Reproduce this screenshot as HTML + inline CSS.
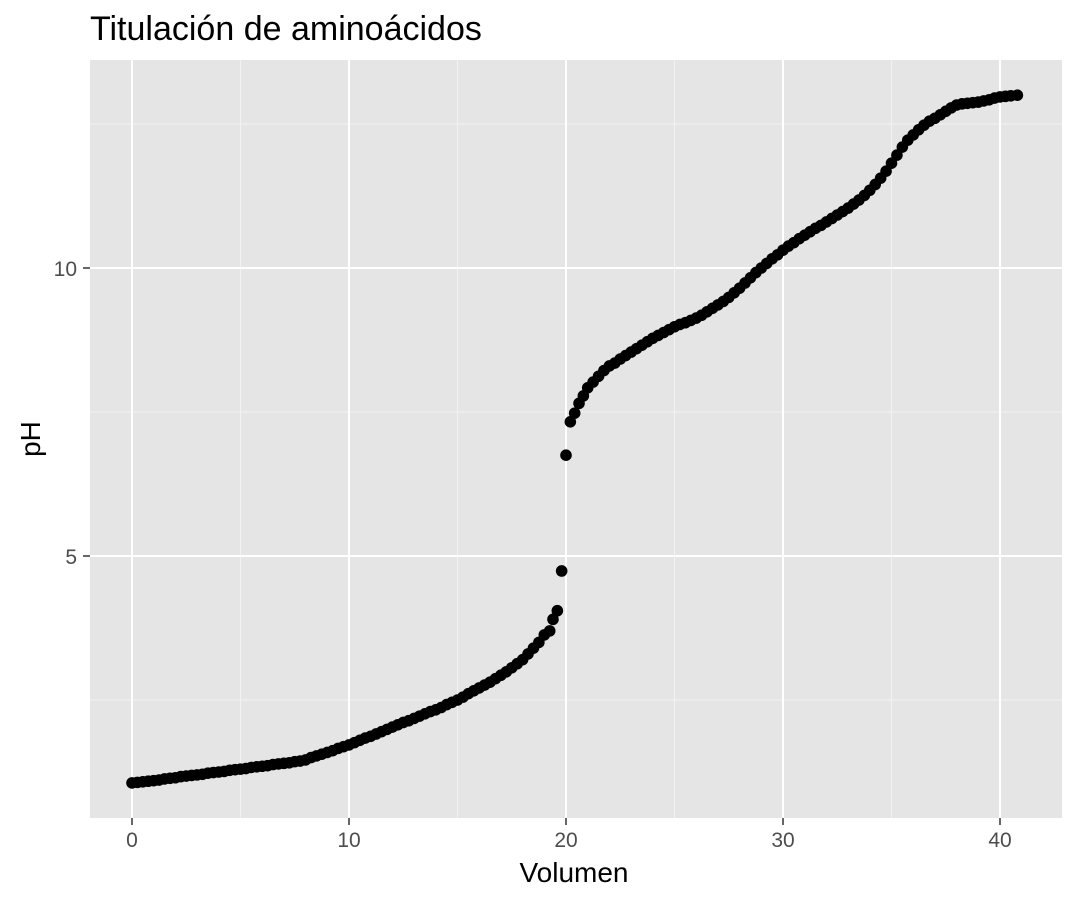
<!DOCTYPE html>
<html><head><meta charset="utf-8"><style>
body{margin:0;background:#fff;}
svg text{font-family:"Liberation Sans",Arial,sans-serif;}
</style></head><body>
<svg id="chart" width="1076" height="902" xmlns="http://www.w3.org/2000/svg">
<rect width="1076" height="902" fill="#fff"/>
<text x="90" y="40" font-size="34" fill="#000">Titulación de aminoácidos</text>
<rect x="90" y="60" width="972" height="758" fill="#e5e5e5"/>
<g id="grid"></g>
<g id="points"></g>
<g id="axes"></g>
<text x="574" y="882" font-size="28" text-anchor="middle" fill="#000">Volumen</text>
<text transform="translate(40,439) rotate(-90)" font-size="28" text-anchor="middle" fill="#000">pH</text>
</svg>
<script>
const volumes=[0,0.25,0.5,0.75,1,1.25,1.5,1.75,2,2.25,2.5,2.75,3,3.25,3.5,3.75,4,4.25,4.5,4.75,5,5.25,5.5,5.75,6,6.25,6.5,6.75,7,7.25,7.5,7.75,8,8.25,8.5,8.75,9,9.25,9.5,9.75,10,10.25,10.5,10.75,11,11.25,11.5,11.75,12,12.25,12.5,12.75,13,13.25,13.5,13.75,14,14.25,14.5,14.75,15,15.25,15.5,15.75,16,16.25,16.5,16.75,17,17.25,17.5,17.75,18,18.25,18.5,18.75,19,19.25,19.4,19.6,19.8,20,20.2,20.4,20.6,20.8,21,21.25,21.5,21.75,22,22.25,22.5,22.75,23,23.25,23.5,23.75,24,24.25,24.5,24.75,25,25.25,25.5,25.75,26,26.25,26.5,26.75,27,27.25,27.5,27.75,28,28.25,28.5,28.75,29,29.25,29.5,29.75,30,30.25,30.5,30.75,31,31.25,31.5,31.75,32,32.25,32.5,32.75,33,33.25,33.5,33.75,34,34.25,34.5,34.75,35,35.25,35.5,35.75,36,36.25,36.5,36.75,37,37.25,37.5,37.75,38,38.25,38.5,38.75,39,39.25,39.5,39.75,40,40.25,40.5,40.8];
const phValues=[1.06,1.07,1.08,1.09,1.10,1.11,1.13,1.14,1.15,1.17,1.18,1.19,1.20,1.21,1.23,1.24,1.25,1.26,1.28,1.29,1.30,1.31,1.33,1.34,1.35,1.36,1.38,1.39,1.40,1.41,1.43,1.44,1.46,1.50,1.53,1.56,1.59,1.62,1.66,1.69,1.72,1.76,1.80,1.84,1.87,1.91,1.95,1.99,2.03,2.07,2.11,2.14,2.18,2.22,2.26,2.30,2.33,2.37,2.42,2.46,2.50,2.55,2.61,2.66,2.71,2.76,2.81,2.87,2.93,2.99,3.06,3.13,3.20,3.30,3.40,3.50,3.63,3.70,3.90,4.05,4.74,6.75,7.33,7.48,7.65,7.78,7.92,8.02,8.12,8.22,8.30,8.35,8.42,8.48,8.54,8.60,8.66,8.72,8.78,8.83,8.88,8.93,8.98,9.02,9.05,9.09,9.13,9.18,9.24,9.30,9.36,9.42,9.49,9.57,9.65,9.74,9.83,9.92,10.0,10.08,10.16,10.23,10.31,10.38,10.44,10.51,10.57,10.63,10.69,10.74,10.8,10.86,10.92,10.98,11.04,11.11,11.18,11.26,11.35,11.45,11.56,11.68,11.82,11.96,12.10,12.22,12.31,12.40,12.48,12.55,12.6,12.66,12.72,12.78,12.83,12.85,12.86,12.87,12.88,12.90,12.92,12.95,12.97,12.98,12.99,13.0];
const xTicks=[0,10,20,30,40];
const xMinor=[5,15,25,35];
const yTicks=[5,10];
const yMinor=[2.5,7.5,12.5];
const NS="http://www.w3.org/2000/svg";
const X=v=>132+v*21.7;
const Y=p=>556-(p-5)*57.6;
function mk(tag,attrs,parent){const e=document.createElementNS(NS,tag);for(const k in attrs)e.setAttribute(k,attrs[k]);parent.appendChild(e);return e;}
const grid=document.getElementById('grid'),axes=document.getElementById('axes'),pts=document.getElementById('points');
xMinor.forEach(v=>{const l=mk('line',{x1:X(v),x2:X(v),y1:60,y2:818,stroke:'#f2f2f2','stroke-width':1},grid);

});
yMinor.forEach(v=>{const l=mk('line',{x1:90,x2:1062,y1:Y(v),y2:Y(v),stroke:'#f2f2f2','stroke-width':1},grid);

});
xTicks.forEach(v=>{const l=mk('line',{x1:X(v),x2:X(v),y1:60,y2:818,stroke:'#fff','stroke-width':2},grid);


const t=mk('line',{x1:X(v),x2:X(v),y1:818,y2:825,stroke:'#333','stroke-width':1.5},axes);


const tx=mk('text',{x:X(v),y:847,'font-size':21,'text-anchor':'middle',fill:'#4d4d4d'},axes);tx.textContent=v;

});
yTicks.forEach(v=>{const l=mk('line',{x1:90,x2:1062,y1:Y(v),y2:Y(v),stroke:'#fff','stroke-width':2},grid);


const t=mk('line',{x1:83,x2:90,y1:Y(v),y2:Y(v),stroke:'#333','stroke-width':1.5},axes);


const tx=mk('text',{x:77,y:Y(v)+8,'font-size':21,'text-anchor':'end',fill:'#4d4d4d'},axes);tx.textContent=v;

});
volumes.forEach((v,i)=>{const c=mk('circle',{cx:X(v),cy:Y(phValues[i]),r:5.8,fill:'#000'},pts);

});
</script>
</body></html>
